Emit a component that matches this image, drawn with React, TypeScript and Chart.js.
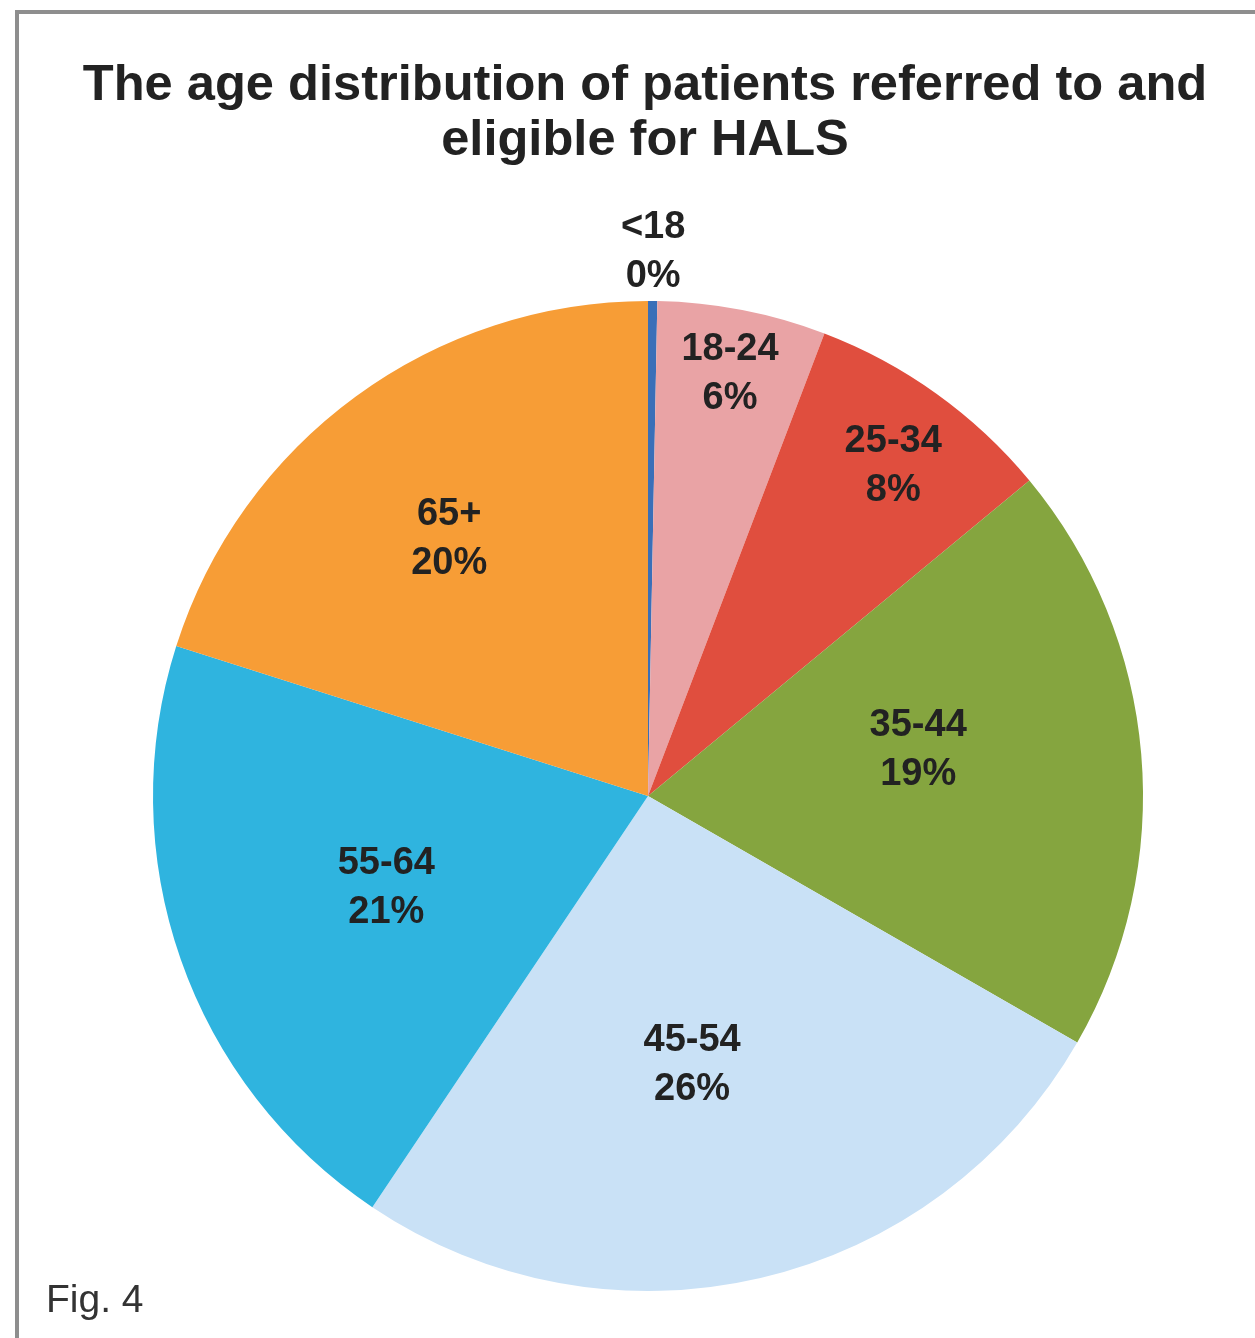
import React, { useEffect, useRef } from "react";
import { Chart, registerables } from "chart.js";

Chart.register(...registerables);

const categories = ["<18", "18-24", "25-34", "35-44", "45-54", "55-64", "65+"];
const shares = [0.3, 5.5, 8.2, 19.3, 26.1, 20.5, 20.1];
const shareLabels = ["0%", "6%", "8%", "19%", "26%", "21%", "20%"];
const sliceColors = ["#3a6fb8", "#e9a3a5", "#e04e3e", "#85a53f", "#c9e1f6", "#2fb4df", "#f79d36"];
const labelRadius = [1.1, 0.87, 0.832, 0.554, 0.549, 0.56, 0.657];
const labelAngleShift = [0, 0, 0.9, -5, 3.8, 0, -1.5];

const FONT = "'Liberation Sans', Arial, Helvetica, sans-serif";

const labelPlugin = {
  id: "sliceLabels",
  afterDatasetsDraw(chart: any) {
    const ctx = chart.ctx;
    const meta = chart.getDatasetMeta(0);
    ctx.save();
    ctx.font = `bold 38px ${FONT}`;
    ctx.fillStyle = "#222222";
    ctx.textAlign = "center";
    ctx.textBaseline = "middle";
    meta.data.forEach((el: any, i: number) => {
      const p = el.getProps(["x", "y", "startAngle", "endAngle", "outerRadius"], true);
      const mid = (p.startAngle + p.endAngle) / 2 + (labelAngleShift[i] * Math.PI) / 180;
      const r = p.outerRadius * labelRadius[i];
      const px = p.x + Math.cos(mid) * r;
      const py = p.y + Math.sin(mid) * r;
      ctx.fillText(categories[i], px, py - 24);
      ctx.fillText(shareLabels[i], px, py + 25);
    });
    ctx.restore();
  },
};

export default function App() {
  const ref = useRef<HTMLCanvasElement | null>(null);
  useEffect(() => {
    document.body.style.margin = "0";
    if (!ref.current) return;
    const chart = new Chart(ref.current, {
      type: "pie",
      data: {
        labels: categories,
        datasets: [
          {
            data: shares,
            backgroundColor: sliceColors,
            borderWidth: 0,
          },
        ],
      },
      options: {
        animation: false,
        responsive: false,
        layout: { padding: { top: 301, bottom: 47, left: 41, right: 0 } },
        plugins: {
          legend: { display: false },
          title: { display: false },
          tooltip: { enabled: false },
        },
      },
      plugins: [labelPlugin],
    });
    return () => chart.destroy();
  }, []);

  return (
    <div style={{ position: "relative", width: 1255, height: 1338, overflow: "hidden", background: "#fff" }}>
      <div
        style={{
          position: "absolute",
          left: 15,
          top: 10,
          width: 1400,
          height: 1326,
          borderLeft: "4px solid #8e8e8e",
          borderTop: "4px solid #8e8e8e",
          borderBottom: "1px solid #dddddd",
        }}
      />
      <canvas ref={ref} width={1255} height={1338} style={{ position: "absolute", left: 0, top: 0 }} />
      <div
        style={{
          position: "absolute",
          left: 0,
          top: 55,
          width: 1290,
          textAlign: "center",
          fontFamily: FONT,
          fontWeight: "bold",
          fontSize: 50.6,
          lineHeight: "55px",
          color: "#222",
        }}
      >
        The age distribution of patients referred to and
        <br />
        eligible for HALS
      </div>
      <div
        style={{
          position: "absolute",
          left: 46,
          top: 1277,
          fontFamily: FONT,
          fontSize: 39,
          lineHeight: "44px",
          color: "#333",
        }}
      >
        Fig. 4
      </div>
    </div>
  );
}
